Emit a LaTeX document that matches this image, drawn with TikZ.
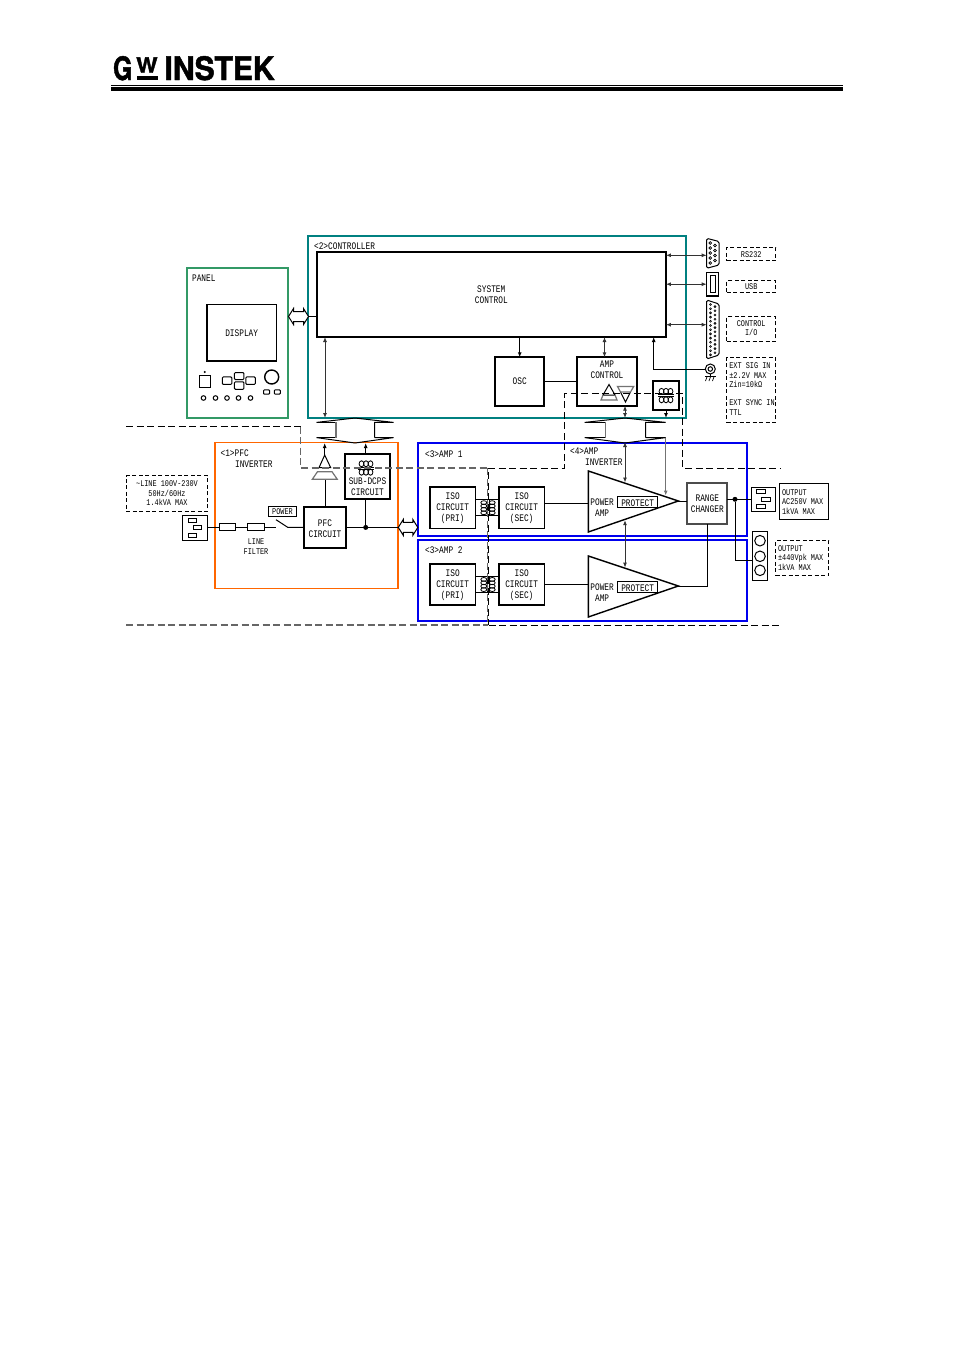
\documentclass[tikz,border=0pt]{standalone}
\usepackage{fontspec}
\setmainfont[FakeStretch=0.78]{Liberation Mono}
\newfontfamily\logofont[FakeStretch=0.93,BoldFeatures={FakeBold=1.5}]{TeX Gyre Heros}
\usetikzlibrary{arrows.meta}
\definecolor{ctlteal}{HTML}{008080}
\definecolor{panelgreen}{HTML}{339966}
\definecolor{pfcorange}{HTML}{FF6600}
\definecolor{ampblue}{HTML}{0000EE}
\tikzset{
  wire/.style={line width=1mm},
  grayline/.style={line width=1.2mm,draw=black!55},
  lab/.style={inner sep=0,font=\fontsize{28.5}{31.3}\selectfont,align=center},
  slab/.style={inner sep=0,font=\fontsize{25}{27}\selectfont,align=left},
  blk/.style={draw,line width=1.8mm,inner sep=0,outer sep=0,lab},
  thinbox/.style={draw,line width=1mm,inner sep=0,outer sep=0},
  dashbox/.style={draw,line width=1mm,dash pattern=on 4mm off 2.5mm,inner sep=0,outer sep=0},
  frame/.style={draw,line width=1.8mm,inner sep=0,outer sep=0},
  longdash/.style={line width=1mm,dash pattern=on 7mm off 3.5mm},
  graydash/.style={line width=1.3mm,draw=black!60,dash pattern=on 7mm off 3.5mm},
  tip/.style={>={Latex[length=5mm,width=4mm]}},
  dot/.style={circle,fill,inner sep=0,minimum size=5mm,outer sep=0}
}
%coil pair, #1 hump radius, #2 centre, #3 rotation, #4 hump offsets
\newcommand{\xfmr}[4][2.4]{
  \begin{scope}[shift={(#2)},rotate=#3,line width=.8mm]
    \foreach \h in {#4} {
      \draw (\h,-4.2) ellipse [x radius=#1,y radius=3];
      \draw (\h,4.2) ellipse [x radius=#1,y radius=3];
    }
    \draw (-8,-.9) -- (8,-.9); \draw (-8,.9) -- (8,.9);
  \end{scope}
}
%hollow two way bus arrow, #1 left end, #2 right end, #3 y
\newcommand{\hbus}[3]{
  \draw[wire,fill=white] (#1,#3) -- (#1+5,#3-8) -- (#1+5,#3-5) -- (#2-5,#3-5) -- (#2-5,#3-8) -- (#2,#3)
    -- (#2-5,#3+8) -- (#2-5,#3+5) -- (#1+5,#3+5) -- (#1+5,#3+8) -- cycle;
}
%vertical bus outline, #1 left, #2 inner left, #3 apex, #4 inner right, #5 right
\newcommand{\vbus}[5]{
  \draw[wire] (#1,437.6) -- (#3,443) -- (#5,437.6) -- (#4,437.6);
  \draw[wire] (#1,422.4) -- (#3,418) -- (#5,422.4) -- (#4,422.4) -- (#4,437.6);
  \draw[wire] (#1,422.4) -- (#2,422.4);
  \draw[wire] (#1,437.6) -- (#2,437.6);
  \draw[grayline] (#2,422.4) -- (#2,437.6);
}
\begin{document}
\begin{tikzpicture}[x=1mm,y=-1mm]
  \useasboundingbox (0,0) rectangle (954,1350);
  %Header
  \node[inner sep=0,anchor=base west] (logo) at (113,80) {\logofont\bfseries\fontsize{92}{92}\selectfont \scalebox{.82}[1]{G}\hspace{4mm}\raisebox{7.3mm}{\scalebox{.75}[.65]{W}}\llap{\rule{21mm}{4mm}}\hspace{7mm}INSTEK};
  \coordinate (ruleleft) at (111,85);
  \coordinate (ruleright) at (843,85);
  \draw[wire] (ruleleft) -- (ruleright);
  \draw[line width=3.6mm] (111,89) -- (843,89);

  %Frames
  \node[frame,draw=ctlteal,minimum width=37.8cm,minimum height=18.2cm] (ctl) at (497.2,327) {};
  \node[frame,draw=panelgreen,minimum width=10.1cm,minimum height=15cm] (panel) at (237.5,343) {};
  \node[frame,draw=pfcorange,minimum width=18.3cm,minimum height=14.6cm] (pfc) at (306.5,515.5) {};
  \node[frame,draw=ampblue,minimum width=32.93cm,minimum height=9.33cm] (ampone) at (582.65,489.35) {};
  \node[frame,draw=ampblue,minimum width=32.93cm,minimum height=8.1cm] (amptwo) at (582.65,580.5) {};
  \node[lab,anchor=west] (ctllab) at (314,246) {<2>CONTROLLER};
  \node[lab,anchor=west] (panellab) at (192,278.5) {PANEL};
  \node[lab,anchor=north west,align=left] (pfclab) at (220.5,449.7) {<1>PFC\\\hspace{14.5mm}INVERTER};
  \node[lab,anchor=west] (amponelab) at (425,454) {<3>AMP 1};
  \node[lab,anchor=west] (amptwolab) at (425,550.5) {<3>AMP 2};
  \node[lab,anchor=north west,align=left] (invlab) at (570,447.7) {<4>AMP\\\hspace{15mm}INVERTER};

  %Controller
  \node[blk,minimum width=34.93cm,minimum height=8.5cm] (sys) at (491.3,294.5) {SYSTEM\\CONTROL};
  \node[blk,minimum width=4.93cm,minimum height=4.84cm] (osc) at (519.7,381.5) {OSC};
  \node[blk,minimum width=6.06cm,minimum height=4.84cm,anchor=north] (ampctl) at (607,357.3) {};
  \node[lab] (ampctltxt) at (607,370) {AMP\\CONTROL};
  \node[blk,minimum width=2.54cm,minimum height=2.87cm] (ctlxf) at (666,395.6) {};
  \xfmr{666,395.6}{0}{-4.5,0,4.5}
  \draw[wire] (osc.east) -- (ampctl.west |- osc.east);
  \draw[line width=1mm] (609,384.5) -- (603,395) -- (615,395) -- cycle;
  \draw[grayline] (603,395) -- (601,400) -- (617,400) -- (615,395);
  \draw[line width=1mm] (620.5,392) -- (625.5,402) -- (630.5,392);
  \draw[grayline] (620.5,392) -- (617.5,386.5) -- (633.7,386.5) -- (630.5,392) -- cycle;

  %Panel
  \node[thinbox,line width=1.4mm,lab,minimum width=6.95cm,minimum height=5.65cm] (disp) at (241.7,332.8) {DISPLAY};
  \node[thinbox,minimum width=1.15cm,minimum height=1.2cm] (pwr) at (205.2,381) {};
  \node[dot,minimum size=2.2mm] (pwrled) at (204.7,372) {};
  \node[thinbox,rounded corners=1mm,minimum width=.95cm,minimum height=.75cm] (keyl) at (227,380.7) {};
  \node[thinbox,rounded corners=1mm,minimum width=.95cm,minimum height=.7cm] (keyt) at (239.2,376) {};
  \node[thinbox,rounded corners=1mm,minimum width=.95cm,minimum height=.75cm] (keyb) at (239.2,385.5) {};
  \node[thinbox,rounded corners=1mm,minimum width=.95cm,minimum height=.75cm] (keyr) at (250.5,380.7) {};
  \node[circle,thinbox,line width=1.4mm,minimum size=1.4cm] (knob) at (271.7,377) {};
  \node[thinbox,rounded corners=.8mm,minimum width=.6cm,minimum height=.42cm] (softa) at (266.5,392) {};
  \node[thinbox,rounded corners=.8mm,minimum width=.6cm,minimum height=.42cm] (softb) at (277.3,392) {};
  \foreach \x in {203.5,215.5,227,238.5,250.5} \draw[wire] (\x,398) circle (2.3);

  %Buses
  \hbus{288.5}{308.5}{316.5}
  \coordinate (panelbus) at (308.5,316.5);
  \draw[wire] (panelbus) -- (sys.west |- panelbus);
  \vbus{316.5}{336}{355}{374.5}{393.5}
  \vbus{584.7}{605.3}{625}{645.7}{665.7}
  \hbus{398.3}{417.8}{527.4}
  \coordinate (lbustop) at (325,418);
  \coordinate (rbustop) at (625,418);
  \coordinate (rbuslow) at (625,442);
  \draw[<->,tip,line width=.9mm,draw=black!80] (sys.south -| lbustop) -- (lbustop);
  \draw[->,tip,wire] (sys.south -| osc) -- (osc.north);
  \draw[<->,tip,line width=.9mm,draw=black!80] (sys.south -| 604.5,0) -- (ampctl.north -| 604.5,0);
  \draw[<->,tip,line width=.9mm,draw=black!80] (ampctl.south -| rbustop) -- (rbustop);
  \draw[->,tip,wire] (ctlxf.south) -- (ctlxf.south |- rbustop);

  %Rear connectors
  \draw[wire,rounded corners=1.5mm] (706.7,238.3) -- (719,241.5) -- (719,265) -- (706.7,268.3) -- cycle;
  \coordinate (rsport) at (706.7,255.3);
  \foreach \y in {243,248,253,258,263} \draw[line width=.7mm] (710.2,\y) circle (1.3);
  \foreach \y in {245.5,250.5,255.5,260.5} \draw[line width=.7mm] (715,\y) circle (1.3);
  \node[thinbox,line width=1.2mm,minimum width=1.2cm,minimum height=2.37cm] (usb) at (712.7,284.2) {};
  \node[thinbox,minimum width=.5cm,minimum height=1.7cm] (usbin) at (712.8,284.2) {};
  \draw[wire,rounded corners=1.5mm] (706.7,300) -- (719,304) -- (719,355) -- (706.7,359) -- cycle;
  \coordinate (ioport) at (706.7,324.7);
  \foreach \n in {0,...,12} \draw[line width=.6mm] (710.5,304.5+\n*4.2) circle (1);
  \foreach \n in {0,...,11} \draw[line width=.6mm] (715,306.6+\n*4.2) circle (1);
  \node[circle,thinbox,minimum size=1cm] (bnc) at (710.3,369) {};
  \node[circle,thinbox,minimum size=.45cm] (bncin) at (710.3,369) {};
  \draw[<->,tip,line width=.9mm,draw=black!80] (sys.east |- rsport) -- (rsport);
  \draw[<->,tip,line width=.9mm,draw=black!80] (sys.east |- usb.west) -- (usb.west);
  \draw[<->,tip,line width=.9mm,draw=black!80] (sys.east |- ioport) -- (ioport);
  \coordinate (bncturn) at (653.7,369);
  \draw[->,tip,wire] (bnc.west) -- (bncturn) -- (bncturn |- sys.south);
  \draw[wire] (bnc.south) -- (710.3,376.7);
  \draw[wire] (705,376.7) -- (715.5,376.7);
  \foreach \x in {707,710.5,714} \draw[line width=.7mm] (\x,376.7) -- (\x-1.5,381);

  \node[dashbox,minimum width=4.9cm,minimum height=1.34cm] (rsbox) at (751.2,254) {};
  \node[slab] (rslab) at (751.2,254.5) {RS232};
  \node[dashbox,minimum width=4.9cm,minimum height=1.16cm] (usbbox) at (751.2,286.5) {};
  \node[slab] (usblab) at (751.2,286.3) {USB};
  \node[dashbox,minimum width=4.9cm,minimum height=2.46cm] (iobox) at (751.2,329) {};
  \node[slab,align=center] (iolab) at (751.2,328) {CONTROL\\I/O};
  \node[dashbox,minimum width=4.9cm,minimum height=6.5cm] (extbox) at (751.2,389.8) {};
  \node[slab,anchor=north west] (extsiglab) at (729.3,363) {EXT SIG IN\\±2.2V MAX\\Zin=10kΩ};
  \node[slab,anchor=north west] (extsynclab) at (729.3,400) {EXT SYNC IN\\TTL};

  %PFC inverter
  \node[dashbox,minimum width=8.14cm,minimum height=3.56cm] (linebox) at (167,493.5) {};
  \node[slab,align=center] (linelab) at (167,493.3) {\textasciitilde LINE 100V-230V\\50Hz/60Hz\\1.4kVA MAX};
  \node[thinbox,line width=1.2mm,minimum width=2.54cm,minimum height=2.5cm] (inlet) at (195,527.8) {};
  \node[thinbox,minimum width=.84cm,minimum height=.4cm] (pina) at (192.5,520.3) {};
  \node[thinbox,minimum width=.84cm,minimum height=.4cm] (pinb) at (197.5,527.3) {};
  \node[thinbox,minimum width=.84cm,minimum height=.4cm] (pinc) at (192.5,535.3) {};
  \node[thinbox,minimum width=1.64cm,minimum height=.73cm] (fuse) at (227.5,527.3) {};
  \node[thinbox,minimum width=1.74cm,minimum height=.73cm] (filt) at (256,527.3) {};
  \node[slab,align=center] (filtlab) at (256,546.5) {LINE\\FILTER};
  \node[thinbox,minimum width=2.84cm,minimum height=1.04cm] (powerbox) at (282.5,511.5) {};
  \node[slab] (powerlab) at (282.5,512) {POWER};
  \node[blk,minimum width=4.14cm,minimum height=4.1cm] (pfcckt) at (325,527.8) {\rule{0pt}{8mm}PFC\\CIRCUIT};
  \node[blk,minimum width=4.5cm,minimum height=4.5cm] (subdc) at (367.5,476.8) {};
  \xfmr{366,468}{0}{-4.5,0,4.5}
  \node[lab] (subdclab) at (367.5,486.4) {SUB-DCPS\\CIRCUIT};
  \coordinate (swin) at (276,519.7);
  \coordinate (swout) at (287.7,527.3);
  \coordinate (rail) at (398.3,527.4);
  \draw[wire] (inlet.east |- fuse.west) -- (fuse.west);
  \draw[wire] (fuse.east) -- (filt.west);
  \draw[wire] (filt.east) -- (276,527.3);
  \draw[wire] (swin) -- (swout) -- (pfcckt.west |- swout);
  \draw[wire] (pfcckt.east |- rail) -- (rail);
  \node[dot] (railnode) at (365.7,527.4) {};
  \draw[wire] (railnode) -- (railnode |- subdc.south);
  \draw[->,tip,wire] (railnode |- subdc.north) -- (365.7,443);
  \draw[wire] (pfcckt.north) -- (325,479.3);
  \draw[wire] (324.7,455) -- (319,467.7) -- (330.7,467.7) -- cycle;
  \draw[grayline] (317.5,471.7) -- (332,471.7) -- (337.3,479.3) -- (312.3,479.3) -- cycle;
  \draw[->,tip,wire] (324.7,455) -- (324.7,443);

  %Amp 1 and 2
  \foreach \nm/\yc/\ya/\yb/\ytri/\ytip/\yin in {a/507.7/499.4/515.3/471/501/503.5, b/584.5/576.7/592.3/556/586/584.5} {
    \node[blk,line width=1.5mm,minimum width=4.53cm,minimum height=4.13cm] (isop\nm) at (452.7,\yc) {\rule{0pt}{8.5mm}ISO\\CIRCUIT\\(PRI)};
    \node[blk,line width=1.5mm,minimum width=4.53cm,minimum height=4.13cm] (isos\nm) at (521.7,\yc) {\rule{0pt}{8.5mm}ISO\\CIRCUIT\\(SEC)};
    \draw[wire] (isop\nm.east |- 0,\ya) -- (isos\nm.west |- 0,\ya);
    \draw[wire] (isop\nm.east |- 0,\yb) -- (isos\nm.west |- 0,\yb);
    \xfmr[1.9]{488,\yc}{90}{-5.1,-1.7,1.7,5.1}
    \draw[line width=1.4mm] (588.3,\ytri) -- (678.3,\ytip) -- (588.3,\ytri+61) -- cycle;
    \draw[wire] (isos\nm.east |- 0,\yin) -- (588.3,\yin);
    \node[thinbox,minimum width=4.04cm,minimum height=1.06cm] (prot\nm) at (637.5,\ytip+1) {};
    \node[lab] (protlab\nm) at (637.7,\ytip+2.3) {PROTECT};
    \node[lab,anchor=north west,align=center] (powamp\nm) at (590.3,\ytip-2) {POWER\\AMP};
  }
  \coordinate (tipa) at (678.3,501);
  \coordinate (tipb) at (678.3,586);
  \node[blk,draw=black!70,line width=1.8mm,minimum width=4cm,minimum height=4.13cm] (range) at (707.3,503.4) {RANGE\\CHANGER};
  \draw[wire] (tipa) -- (range.west |- tipa);
  \draw[wire] (tipb) -- (range.south |- tipb) -- (range.south);
  \draw[<->,tip,line width=.9mm,draw=black!80] (rbuslow) -- (625,482.5);
  \draw[<->,tip,line width=.9mm,draw=black!80] (625,520.2) -- (625,567.6);
  \draw[->,tip,grayline] (665.7,437.6) -- (665.7,495.5);

  %Outputs
  \node[thinbox,line width=1.2mm,minimum width=2.4cm,minimum height=2.4cm] (outlet) at (763.7,499.3) {};
  \node[thinbox,minimum width=.84cm,minimum height=.4cm] (outa) at (760.9,491.3) {};
  \node[thinbox,minimum width=.9cm,minimum height=.4cm] (outb) at (766.3,499.7) {};
  \node[thinbox,minimum width=.84cm,minimum height=.4cm] (outc) at (760.9,506.3) {};
  \node[thinbox,minimum width=4.94cm,minimum height=3.6cm] (outbox) at (804,501.3) {};
  \node[slab,anchor=north west] (outlab) at (782,489.3) {OUTPUT\\AC250V MAX\\1kVA MAX};
  \node[thinbox,line width=1.2mm,minimum width=1.5cm,minimum height=4.86cm] (term) at (759.8,556) {};
  \foreach \y in {540.7,556.3,570.3} \draw[wire] (760,\y) circle (5.3);
  \node[dashbox,minimum width=5.3cm,minimum height=3.53cm] (hvbox) at (802.2,558.3) {};
  \node[slab,anchor=north west] (hvlab) at (778,545.3) {OUTPUT\\±440Vpk MAX\\1kVA MAX};
  \node[dot] (outnode) at (735,499.3) {};
  \draw[wire] (range.east |- outnode) -- (outlet.west);
  \draw[wire] (outnode) -- (735,560) -- (term.west |- 0,560);

  %Isolation boundary
  \draw[longdash] (126,426.5) -- (300.7,426.5);
  \draw[graydash] (300.7,426.5) -- (300.7,468) -- (488,468);
  \draw[longdash] (488,468) -- (564.7,468) -- (564.7,393.4) -- (682.6,393.4) -- (682.6,468) -- (780,468);
  \draw[graydash] (126,625) -- (487.5,625);
  \draw[longdash] (488.5,625) -- (780,625);
  \draw[graydash] (487.4,468) -- (487.4,625);
  \draw[longdash] (488.8,472) -- (488.8,625);
\end{tikzpicture}
\end{document}
